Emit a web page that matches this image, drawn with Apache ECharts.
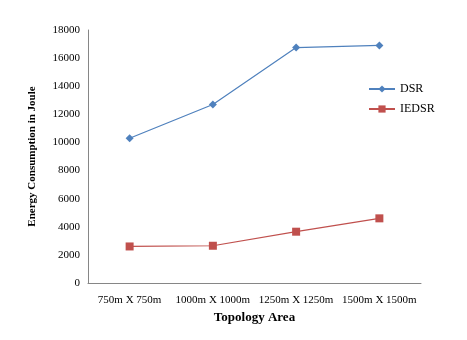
<!DOCTYPE html>
<html>
<head>
<meta charset="utf-8">
<script src="https://cdn.jsdelivr.net/npm/echarts@6/dist/echarts.min.js"></script>
<style>
  html, body { margin: 0; padding: 0; background: #fff; }
  #chart { width: 467px; height: 340px; }
</style>
</head>
<body>
<div id="chart"></div>
<script>
// Topology sizes on the x axis
const categories = ['750m X 750m', '1000m X 1000m', '1250m X 1250m', '1500m X 1500m'];
// Energy consumption (Joule) per protocol
const dsrValues = [10300, 12700, 16750, 16900];
const iedsrValues = [2600, 2650, 3650, 4600];

const serif = 'Liberation Serif';
const chart = echarts.init(document.getElementById('chart'));
chart.setOption({
  animation: false,
  backgroundColor: '#ffffff',
  grid: { left: 88, right: 46, top: 30, bottom: 57, containLabel: false },
  legend: {
    orient: 'vertical',
    left: 363,
    top: 78,
    itemGap: 8,
    itemWidth: 26,
    itemHeight: 9,
    textStyle: { fontFamily: serif, fontSize: 12, color: '#000' },
    data: ['DSR', 'IEDSR']
  },
  xAxis: {
    type: 'category',
    data: categories,
    boundaryGap: true,
    name: 'Topology Area',
    nameLocation: 'middle',
    nameGap: 24,
    nameTextStyle: { fontFamily: serif, fontSize: 13, fontWeight: 'bold', color: '#000' },
    axisLine: { lineStyle: { color: '#868686', width: 1 } },
    axisTick: { show: false },
    axisLabel: { fontFamily: serif, fontSize: 11, color: '#000', margin: 12, interval: 0 },
    splitLine: { show: false }
  },
  yAxis: {
    type: 'value',
    min: 0,
    max: 18000,
    interval: 2000,
    name: 'Energy Consumption in Joule',
    nameLocation: 'middle',
    nameGap: 50,
    nameTextStyle: { fontFamily: serif, fontSize: 11, fontWeight: 'bold', color: '#000' },
    axisLine: { show: true, lineStyle: { color: '#868686', width: 1 } },
    axisTick: { show: false },
    axisLabel: { fontFamily: serif, fontSize: 11, color: '#000', margin: 8, formatter: (v) => String(v) },
    splitLine: { show: false }
  },
  series: [
    {
      name: 'DSR',
      type: 'line',
      data: dsrValues,
      symbol: 'diamond',
      symbolSize: 8,
      itemStyle: { color: '#4F81BD' },
      lineStyle: { color: '#4F81BD', width: 1.2 }
    },
    {
      name: 'IEDSR',
      type: 'line',
      data: iedsrValues,
      symbol: 'rect',
      symbolSize: 8,
      itemStyle: { color: '#C0504D' },
      lineStyle: { color: '#C0504D', width: 1.2 }
    }
  ]
});
</script>
</body>
</html>
